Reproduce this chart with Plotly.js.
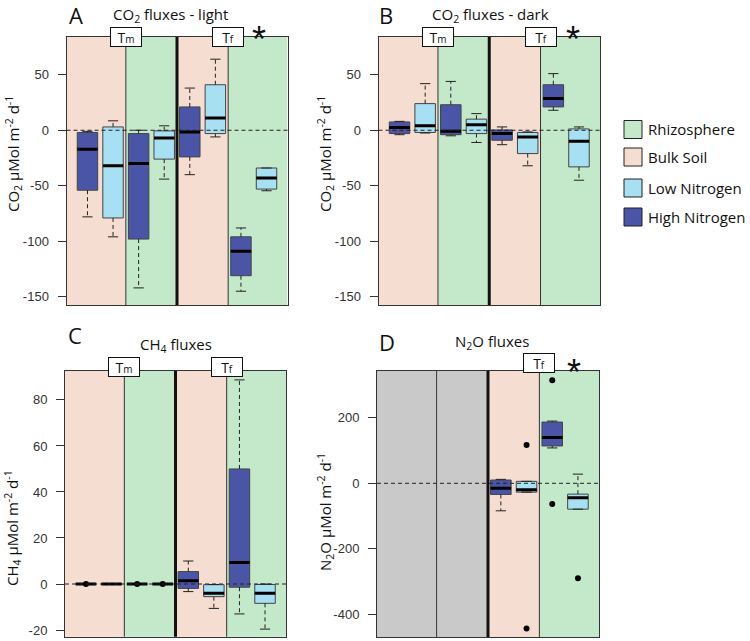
<!DOCTYPE html>
<html><head><meta charset="utf-8">
<script src="https://cdn.plot.ly/plotly-3.0.1.min.js"></script>
<style>body{margin:0;padding:0;background:#fff}#chart{width:750px;height:641px}</style>
</head><body><div id="chart"></div>
<script>
// ---------- DATA ----------
const posHN = [1, 3, 5, 7];
const posLN = [2, 4, 6, 8];

// Panel A: CO2 fluxes - light
const aHN_lower = [-78, -142, -40, -145];
const aHN_q1    = [-54, -98, -24, -131];
const aHN_med   = [-17, -30, -1.5, -109];
const aHN_q3    = [-2, -3, 21, -96];
const aHN_upper = [-1, 0, 38, -88];
const aLN_lower = [-96, -44, -6, -54.5];
const aLN_q1    = [-79, -26, -3, -53];
const aLN_med   = [-32, -7, 11, -43];
const aLN_q3    = [3, -0.6, 41, -34];
const aLN_upper = [8.5, 4, 64, -34];

// Panel B: CO2 fluxes - dark
const bHN_lower = [-4, -5, -13, 18];
const bHN_q1    = [-3, -4, -9, 21];
const bHN_med   = [2.5, -1, -3, 28.5];
const bHN_q3    = [7.5, 23, 0.3, 41];
const bHN_upper = [8, 44, 3, 51];
const bLN_lower = [-2.5, -11, -32, -45];
const bLN_q1    = [-2, -3, -21, -33];
const bLN_med   = [4, 5, -6, -10];
const bLN_q3    = [24, 10, -2, 1.2];
const bLN_upper = [42, 15, -1.5, 3];

// Panel C: CH4 fluxes
const cHN_lower = [0, 0, -3.3, -13];
const cHN_q1    = [0, 0, -1.9, -1.4];
const cHN_med   = [0, 0, 1.4, 9.3];
const cHN_q3    = [0, 0, 5.4, 50];
const cHN_upper = [0, 0, 10, 88.7];
const cLN_lower = [0, 0, -10.6, -19.6];
const cLN_q1    = [0, 0, -5.5, -8.4];
const cLN_med   = [0, 0, -4, -4];
const cLN_q3    = [0, 0, -0.3, -0.2];
const cLN_upper = [0, 0, -0.2, 0];
const cOut_x = [1, 3, 4];
const cOut_y = [0, 0, 0];

// Panel D: N2O fluxes (Tm not measured)
const dPosHN = [5, 7];
const dPosLN = [6, 8];
const dHN_lower = [-84, 108];
const dHN_q1    = [-34, 114];
const dHN_med   = [-15, 140];
const dHN_q3    = [10, 187];
const dHN_upper = [12, 190];
const dLN_lower = [-27, -79];
const dLN_q1    = [-27, -79];
const dLN_med   = [-20, -44];
const dLN_q3    = [6, -33];
const dLN_upper = [6, 28];
const dOut_x = [6, 6, 7, 7, 8];
const dOut_y = [117, -443, 315, -63, -290];

// Tick labels
const tickAB = [-150, -100, -50, 0, 50];
const tickC  = [-20, 0, 20, 40, 60, 80];
const tickD  = [-400, -200, 0, 200];

// Regions
const regionEdges = [0.18, 2.5, 4.5, 6.5, 8.82];
const regionsABC = ['bulk', 'rhizo', 'bulk', 'rhizo'];
const regionsD   = ['none', 'none', 'bulk', 'rhizo'];
const legendLabels = ['Rhizosphere', 'Bulk Soil', 'Low Nitrogen', 'High Nitrogen'];

// ---------- STYLE ----------
const COL = {bulk:'#f5ddd1', rhizo:'#c4e8ca', none:'#c9c9c9', HN:'#4b55a8', LN:'#a6e0f2'};
const legendColors = [COL.rhizo, COL.bulk, COL.LN, COL.HN];
const W = 750, H = 641;
const px = v => v / W, py = v => 1 - v / H;
const TFONT = 'Open Sans, sans-serif';

const panels = [
  {id:'', left:66.5, right:287.5, top:37, bottom:305, range:[-157.4, 84], ticks:tickAB, regions:regionsABC,
   HN:{x:posHN, lo:aHN_lower, q1:aHN_q1, md:aHN_med, q3:aHN_q3, up:aHN_upper},
   LN:{x:posLN, lo:aLN_lower, q1:aLN_q1, md:aLN_med, q3:aLN_q3, up:aLN_upper}, out:null,
   labels:['m','f'], labY:0, star:true, starX:7.7},
  {id:'2', left:378.5, right:600, top:37, bottom:305, range:[-157.4, 84], ticks:tickAB, regions:regionsABC,
   HN:{x:posHN, lo:bHN_lower, q1:bHN_q1, md:bHN_med, q3:bHN_q3, up:bHN_upper},
   LN:{x:posLN, lo:bLN_lower, q1:bLN_q1, md:bLN_med, q3:bLN_q3, up:bLN_upper}, out:null,
   labels:['m','f'], labY:0, star:true, starX:7.75},
  {id:'3', left:65, right:286, top:370.7, bottom:636.7, range:[-22.9, 92.7], ticks:tickC, regions:regionsABC,
   HN:{x:posHN, lo:cHN_lower, q1:cHN_q1, md:cHN_med, q3:cHN_q3, up:cHN_upper},
   LN:{x:posLN, lo:cLN_lower, q1:cLN_q1, md:cLN_med, q3:cLN_q3, up:cLN_upper}, out:{x:cOut_x, y:cOut_y},
   labels:['m','f'], labY:4, star:false},
  {id:'4', left:377, right:599, top:370.7, bottom:637, range:[-469.3, 343.8], ticks:tickD, regions:regionsD,
   HN:{x:dPosHN, lo:dHN_lower, q1:dHN_q1, md:dHN_med, q3:dHN_q3, up:dHN_upper},
   LN:{x:dPosLN, lo:dLN_lower, q1:dLN_q1, md:dLN_med, q3:dLN_q3, up:dLN_upper}, out:{x:dOut_x, y:dOut_y},
   labels:[null,'f'], labY:8, star:true, starX:7.84}
];

const traces = [], shapes = [], annotations = [];
const layout = {
  width: W, height: H, margin:{l:0, r:0, t:0, b:0}, autosize:false,
  paper_bgcolor:'#fff', plot_bgcolor:'rgba(0,0,0,0)', showlegend:false, boxmode:'overlay',
  shapes, annotations
};

panels.forEach(p => {
  const xa = 'x' + p.id, ya = 'y' + p.id;
  layout['xaxis' + p.id] = {
    domain:[px(p.left), px(p.right)], range:[regionEdges[0], regionEdges[4]], anchor:ya,
    showticklabels:false, ticks:'', showgrid:false, zeroline:false,
    showline:true, mirror:true, linecolor:'#333', linewidth:1, fixedrange:true
  };
  layout['yaxis' + p.id] = {
    domain:[py(p.bottom), py(p.top)], range:p.range, anchor:xa,
    tickvals:p.ticks, ticktext:p.ticks.map(v => String(v)),
    ticks:'outside', ticklen:8, tickcolor:'#333', tickwidth:1, ticklabelstandoff:6,
    tickfont:{family:'Liberation Sans, Arial, sans-serif', size:13, color:'#333'},
    showgrid:false, zeroline:false, showline:true, mirror:true, linecolor:'#333', linewidth:1, fixedrange:true
  };
  p.regions.forEach((r, i) => {
    shapes.push({type:'rect', xref:xa, yref:ya + ' domain', x0:regionEdges[i], x1:regionEdges[i+1], y0:0, y1:1,
      fillcolor:COL[r], line:{width:0}, layer:'below'});
  });
  [1, 2, 3].forEach(i => {
    const thick = i === 2;
    shapes.push({type:'line', xref:xa, yref:ya + ' domain', x0:regionEdges[i], x1:regionEdges[i], y0:0, y1:1,
      line:{color: thick ? '#111' : '#333', width: thick ? 3 : 1}});
  });
  shapes.push({type:'line', xref:xa + ' domain', yref:ya, x0:0, x1:1, y0:0, y1:0,
    line:{color:'#222', width:1, dash:'4px,3px'}});

  ['HN', 'LN'].forEach(g => {
    const d = p[g];
    traces.push({type:'box', xaxis:xa, yaxis:ya, x:d.x, q1:d.q1, median:d.md, q3:d.q3,
      lowerfence:d.q1, upperfence:d.q3, width:0.8, fillcolor:COL[g],
      line:{color:'#444', width:1}, boxpoints:false, hoverinfo:'skip', whiskerwidth:0});
    const wx = [], wy = [], cx = [], cy = [], mx = [], my = [];
    d.x.forEach((x, i) => {
      wx.push(x, x, null, x, x, null);
      wy.push(d.q3[i], d.up[i], null, d.q1[i], d.lo[i], null);
      cx.push(x - 0.2, x + 0.2, null, x - 0.2, x + 0.2, null);
      cy.push(d.up[i], d.up[i], null, d.lo[i], d.lo[i], null);
      mx.push(x - 0.4, x + 0.4, null);
      my.push(d.md[i], d.md[i], null);
    });
    traces.push({type:'scatter', mode:'lines', xaxis:xa, yaxis:ya, x:wx, y:wy,
      line:{color:'#222', width:1, dash:'4px,3px'}, hoverinfo:'skip'});
    traces.push({type:'scatter', mode:'lines', xaxis:xa, yaxis:ya, x:cx, y:cy,
      line:{color:'#222', width:1}, hoverinfo:'skip'});
    traces.push({type:'scatter', mode:'lines', xaxis:xa, yaxis:ya, x:mx, y:my,
      line:{color:'#000', width:3}, hoverinfo:'skip'});
  });
  if (p.out) {
    traces.push({type:'scatter', mode:'markers', xaxis:xa, yaxis:ya, x:p.out.x, y:p.out.y,
      marker:{color:'#000', size:6}, hoverinfo:'skip'});
  }
  p.labels.forEach((l, i) => {
    if (!l) return;
    annotations.push({xref:xa, yref:ya + ' domain', x:regionEdges[i*2+1], y:1, yshift:p.labY,
      text:'T<span style="font-size:10px">' + l + '</span>', showarrow:false,
      font:{family:TFONT, size:14, color:'#111'}, bgcolor:'#fff', bordercolor:'#111', borderwidth:1,
      width:28, height:16, borderpad:1, xanchor:'center', yanchor:'middle'});
  });
  if (p.star) {
    annotations.push({xref:xa, yref:ya + ' domain', x:p.starX, y:1, yshift:-2, text:'*', showarrow:false,
      font:{family:'Liberation Sans, Arial', size:36, color:'#111'}, xanchor:'center', yanchor:'middle'});
  }
});

const letters = [['A', 67, 15], ['B', 377, 15], ['C', 66, 335], ['D', 377, 342]];
letters.forEach(([t, x, y]) => annotations.push({xref:'paper', yref:'paper', x:px(x), y:py(y), text:t,
  showarrow:false, xanchor:'left', yanchor:'middle', font:{family:TFONT, size:22, color:'#111'}}));
const titles = [['CO<sub>2</sub> fluxes - light', 170, 15], ['CO<sub>2</sub> fluxes - dark', 490, 15],
  ['CH<sub>4</sub> fluxes', 176, 345], ['N<sub>2</sub>O fluxes', 492, 342]];
titles.forEach(([t, x, y]) => annotations.push({xref:'paper', yref:'paper', x:px(x), y:py(y), text:t,
  showarrow:false, xanchor:'center', yanchor:'middle', font:{family:TFONT, size:15, color:'#111'}}));
const ytitles = [['CO<sub>2</sub> µMol m<sup>-2</sup> d<sup>-1</sup>', 13, 154],
  ['CO<sub>2</sub> µMol m<sup>-2</sup> d<sup>-1</sup>', 325, 154],
  ['CH<sub>4</sub> µMol m<sup>-2</sup> d<sup>-1</sup>', 12, 528],
  ['N<sub>2</sub>O µMol m<sup>-2</sup> d<sup>-1</sup>', 325, 512]];
ytitles.forEach(([t, x, y]) => annotations.push({xref:'paper', yref:'paper', x:px(x), y:py(y), text:t,
  showarrow:false, textangle:-90, xanchor:'center', yanchor:'middle', font:{family:TFONT, size:15, color:'#111'}}));

const legendY = [129.5, 157, 188, 217];
legendLabels.forEach((lab, i) => {
  shapes.push({type:'rect', xref:'paper', yref:'paper', x0:px(624), x1:px(642), y0:py(legendY[i] + 9), y1:py(legendY[i] - 9),
    fillcolor:legendColors[i], line:{color:'#222', width:1}});
  annotations.push({xref:'paper', yref:'paper', x:px(646), y:py(legendY[i]), text:lab, showarrow:false,
    xanchor:'left', yanchor:'middle', font:{family:TFONT, size:15, color:'#111'}});
});

Plotly.newPlot('chart', traces, layout, {staticPlot:true, displayModeBar:false});
</script></body></html>
